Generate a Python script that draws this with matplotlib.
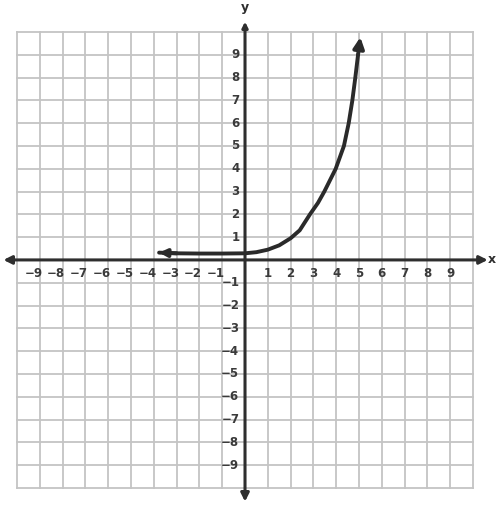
import numpy as np
import matplotlib.pyplot as plt

# curve (hand drawn exponential)
curve_x = [-3.77, -3, -2, -1, 0, 0.5, 1, 1.5, 2, 2.4, 2.85, 3.2, 3.48, 3.98,
           4.34, 4.55, 4.71, 4.84, 4.96, 5.06]
curve_y = [0.32, 0.29, 0.28, 0.28, 0.29, 0.34, 0.45, 0.64, 0.95, 1.3, 2, 2.5, 3, 4,
           5, 6, 7, 8, 9, 9.77]

x_ticks = [-9, -8, -7, -6, -5, -4, -3, -2, -1, 1, 2, 3, 4, 5, 6, 7, 8, 9]
y_ticks = [-9, -8, -7, -6, -5, -4, -3, -2, -1, 1, 2, 3, 4, 5, 6, 7, 8, 9]

fig = plt.figure(figsize=(4.98, 5.08), dpi=100)
ax = fig.add_axes([0, 0, 1, 1])
ax.set_xlim(-10.75, 11.1)
ax.set_ylim(-10.88, 11.4)
ax.axis('off')

# grid
grid_col = '#c4c4c4'
for v in range(-10, 11):
    ax.plot([v, v], [-10, 10], color=grid_col, lw=1.3, zorder=1)
    ax.plot([-10, 10], [v, v], color=grid_col, lw=1.3, zorder=1)

# axes with arrows at both ends
axis_col = '#2e2e2e'
def arrow(x0, y0, x1, y1, scale, col=axis_col, lw=2.2):
    ax.annotate('', xy=(x1, y1), xytext=(x0, y0),
                arrowprops=dict(arrowstyle='-|>', color=col, lw=lw, mutation_scale=scale,
                                shrinkA=0, shrinkB=0), zorder=3)

arrow(0, 0, -10.6, 0, 12)
arrow(0, 0, 10.65, 0, 12)
arrow(0, 0, 0, 10.45, 8)
arrow(0, 0, 0, -10.6, 12)
ax.text(10.85, 0, 'x', fontsize=9, fontweight='bold', color=axis_col, va='center', ha='center')
ax.text(0, 10.8, 'y', fontsize=9, fontweight='bold', color=axis_col, va='bottom', ha='center')

# tick labels
for v in x_ticks:
    off = 0 if v > 0 else -0.28
    ax.text(v + off, -0.6, str(v).replace('-', '\u2212'), fontsize=8.5, fontweight='bold',
            color='#3a3a3a', ha='center', va='center', zorder=4)
for v in y_ticks:
    ax.text(-0.25, v, str(v).replace('-', '\u2212'), fontsize=8.5, fontweight='bold',
            color='#3a3a3a', ha='right', va='center', zorder=4)

# curve
ax.plot(curve_x[:-1], curve_y[:-1], color='#2a2a2a', lw=2.8, solid_capstyle='round',
        solid_joinstyle='round', zorder=5)
arrow(curve_x[-2], curve_y[-2], curve_x[-1], curve_y[-1], 16, col='#2a2a2a', lw=2.8)
arrow(curve_x[1], curve_y[1], curve_x[0], curve_y[0], 11, col='#2a2a2a', lw=2.8)

plt.savefig('out.png', dpi=100)
